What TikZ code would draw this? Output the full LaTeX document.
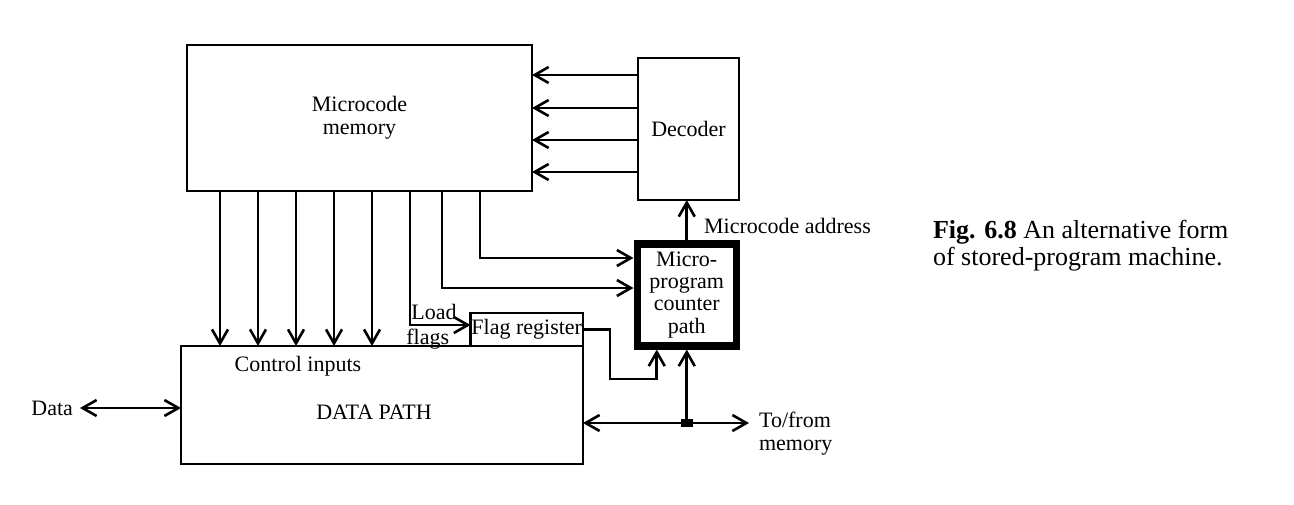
\documentclass[tikz,border=0pt]{standalone}
\usepackage{fontspec}
\setmainfont{Liberation Serif}
\usetikzlibrary{arrows.meta,positioning,calc}

\begin{document}
\begin{tikzpicture}[x=0.5pt, y=-0.5pt,
		font=\fontsize{11}{11.5}\selectfont,
		box/.style={rectangle, draw, line width=1.3pt, align=center, inner sep=1pt, outer sep=0pt},
		thickbox/.style={box, line width=3.75pt, outer sep=1.875pt},
		arrow/.style={-{Straight Barb[length=7pt,width=8pt]}, line width=1.3pt},
		biarrow/.style={{Straight Barb[length=7pt,width=8pt]}-{Straight Barb[length=7pt,width=8pt]}, line width=1.3pt},
		junction/.style={rectangle, fill, minimum width=6pt, minimum height=4pt, inner sep=0pt}
	]
		\useasboundingbox (0,0) rectangle (1294,504);
		% blocks
		\node[box, minimum width=172.5pt, minimum height=73pt] (mem) at (359.5,118) {Microcode\\memory};
		\node[box, minimum width=50.5pt, minimum height=71pt] (dec) at (688.5,129) {Decoder};
		\node[thickbox, minimum width=49.5pt, minimum height=51pt, font=\fontsize{11}{11.2}\selectfont] (mpc) at (686.75,294.75) {Micro-\\program\\counter\\path};
		\node[box, minimum width=201pt, minimum height=59pt] (dp) at (382,405) {};
		\node (dplabel) at (374,412) {DATA PATH};
		\node (ctrl) at (298,366) {Control inputs};
		\node[box, anchor=south east, minimum width=55.5pt, minimum height=16.5pt, inner sep=0.5pt] (flag) at (dp.north east) {Flag register};
		% decoder outputs
		\foreach \y in {75,108,140,172}
			\draw[arrow] (dec.west |- 0,\y) -- (mem.east |- 0,\y);
		% control lines
		\foreach \x in {220,258,296,334,372}
			\draw[arrow] (mem.south -| \x,0) -- (dp.north -| \x,0);
		\draw[arrow] (mem.south -| 410,0) |- (flag.west |- 0,325);
		\node[anchor=south west, inner sep=1pt] (load) at (409,322) {Load};
		\node[anchor=north west, inner sep=1pt] (flags) at (404,327) {flags};
		\draw[arrow] (mem.south -| 442,0) |- (mpc.west |- 0,288);
		\draw[arrow] (mem.south -| 480,0) |- (mpc.west |- 0,258);
		\draw[arrow] (flag.east) -| (610,379) -| ($(mpc.south)+(-30,0)$);
		% address
		\draw[arrow] (mpc.north) -- (dec.south -| mpc.north);
		\node[anchor=west] (addr) at (697,226) {Microcode address};
		% memory bus
		\coordinate (tomem) at (749,423);
		\node[junction] (jn) at (mpc.south |- tomem) {};
		\draw[biarrow] (dp.east |- tomem) -- (tomem);
		\draw[arrow] (jn) -- (mpc.south);
		\node[anchor=west, align=left] (memlabel) at (752,434) {To/from\\memory};
		% data
		\node[anchor=east] (data) at (80,408) {Data};
		\draw[biarrow] (data.east) -- (dp.west |- data.east);
		% caption
		\node[anchor=west, align=left, font=\fontsize{13}{13.5}\selectfont] (cap) at (926,246) {\textbf{Fig. 6.8} An alternative form\\of stored-program machine.};
	\end{tikzpicture}
\end{document}
